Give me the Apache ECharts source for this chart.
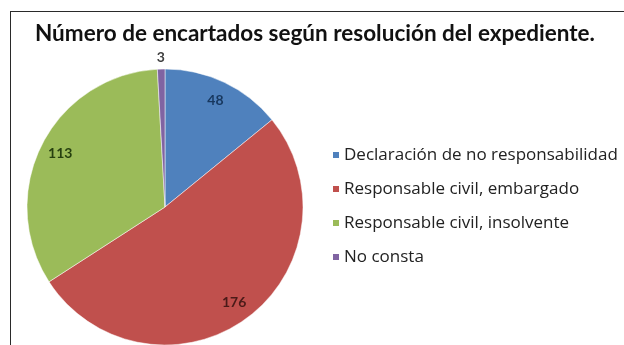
<!DOCTYPE html>
<html>
<head>
<meta charset="utf-8">
<script src="https://cdn.jsdelivr.net/npm/echarts@6/dist/echarts.min.js"></script>
<style>
  body { margin: 0; background: #fff; overflow: hidden; }
  #frame {
    position: absolute; left: 10px; top: 11px; width: 700px; height: 400px;
    border-top: 1.5px solid #2a2a2a; border-left: 1.5px solid #2a2a2a;
  }
  #main { position: absolute; left: 0; top: 0; width: 624px; height: 345px; }
</style>
</head>
<body>
<div id="frame"></div>
<div id="main"></div>
<script>
  var titleText = 'Número de encartados según resolución del expediente.';
  var categories = ['Declaración de no responsabilidad', 'Responsable civil, embargado', 'Responsable civil, insolvente', 'No consta'];
  var values = [48, 176, 113, 3];
  var sliceColors = ['#4F81BD', '#C0504D', '#9BBB59', '#8064A2'];   // colores de los sectores
  var labelColors = ['#17375E', '#4A1A18', '#26400F', '#404040'];   // colores de las cifras

  var center = [165, 207];
  var R = 138;
  var font = 'Lato, "DejaVu Sans", sans-serif';
  var legendFont = '"Open Sans", Lato, sans-serif';

  // sector real
  var pieData = categories.map(function (name, i) {
    return { name: name, value: values[i], itemStyle: { color: sliceColors[i] } };
  });
  // etiquetas interiores (anillo transparente, la etiqueta cae en su centro)
  var innerLabelData = categories.map(function (name, i) {
    return {
      name: name, value: values[i],
      label: { show: i < 3, color: labelColors[i] }
    };
  });
  // etiqueta exterior para el sector pequeño
  var outerLabelData = categories.map(function (name, i) {
    return {
      name: name, value: values[i],
      label: { show: i === 3, color: labelColors[i] }
    };
  });

  var myChart = echarts.init(document.getElementById('main'));
  var option = {
    animation: false,
    title: {
      text: titleText,
      left: 30,
      top: 17,
      textStyle: { fontFamily: font, fontSize: 22.5, fontWeight: 'bold', color: '#111' }
    },
    legend: {
      orient: 'vertical',
      left: 326,
      top: 141,
      itemWidth: 8,
      itemHeight: 8,
      itemGap: 16,
      icon: 'rect',
      selectedMode: false,
      data: categories,
      textStyle: { fontFamily: legendFont, fontSize: 17, color: '#222', lineHeight: 18, padding: [0, 0, 0, -1] }
    },
    series: [
      {
        type: 'pie',
        center: center,
        radius: [0, R],
        startAngle: 90,
        silent: true,
        label: { show: false },
        labelLine: { show: false },
        itemStyle: { borderColor: '#fff', borderWidth: 0.5 },
        data: pieData
      },
      {
        type: 'pie',
        center: center,
        radius: [R * 0.66, R],
        startAngle: 90,
        silent: true,
        itemStyle: { color: 'transparent' },
        label: {
          position: 'inside', formatter: '{c}',
          fontFamily: font, fontSize: 14, fontWeight: 'bold'
        },
        labelLine: { show: false },
        data: innerLabelData
      },
      {
        type: 'pie',
        center: center,
        radius: [R, R + 18],
        startAngle: 90,
        silent: true,
        itemStyle: { color: 'transparent' },
        label: {
          position: 'inside', formatter: '{c}',
          fontFamily: font, fontSize: 14, fontWeight: 'bold'
        },
        labelLine: { show: false },
        data: outerLabelData
      }
    ]
  };
  myChart.setOption(option);
</script>
</body>
</html>
